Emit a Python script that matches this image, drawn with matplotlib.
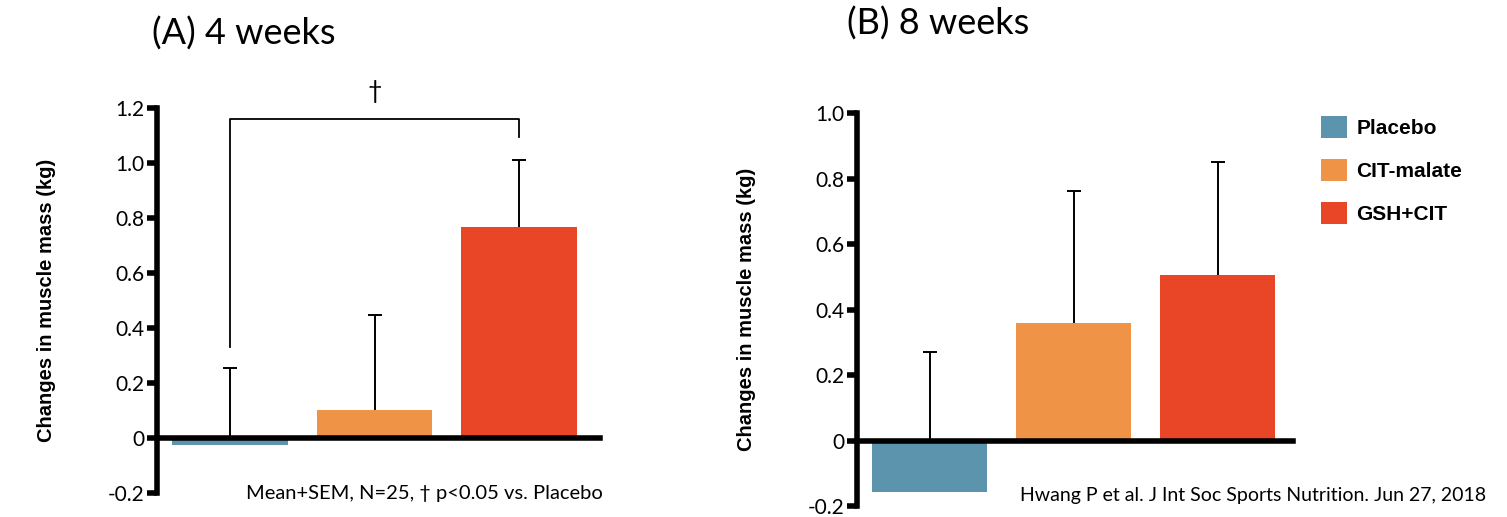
import numpy as np
import matplotlib.pyplot as plt
from matplotlib.patches import Patch

groups = ['Placebo', 'CIT-malate', 'GSH+CIT']
colors = ['#5d94ad', '#ef9447', '#e84626']

# 4 weeks
mean_4w = [-0.027, 0.103, 0.766]
sem_4w = [0.281, 0.346, 0.244]
# 8 weeks
mean_8w = [-0.156, 0.358, 0.506]
sem_8w = [0.426, 0.405, 0.346]

yticks_4w = [-0.2, 0, 0.2, 0.4, 0.6, 0.8, 1.0, 1.2]
yticks_8w = [-0.2, 0, 0.2, 0.4, 0.6, 0.8, 1.0]
ytick_labels_4w = ['-0.2', '0', '0.2', '0.4', '0.6', '0.8', '1.0', '1.2']
ytick_labels_8w = ['-0.2', '0', '0.2', '0.4', '0.6', '0.8', '1.0']

reg = dict(family='Lato')


def draw_panel(ax, means, sems, yticks, ylabels, ylim, xlim):
    x = np.arange(len(means))
    means = np.array(means)
    tops = means + np.array(sems)
    ax.bar(x, means, width=0.8, color=colors, zorder=2)
    # mean+SEM: only the upper whisker, drawn behind the bars
    ax.vlines(x, means, tops, color='black', lw=1.4, zorder=1)
    ax.plot(x, tops, ls='none', marker='_', ms=10, mew=1.4, color='black', zorder=1)
    ax.set_xlim(xlim)
    ax.set_ylim(ylim)
    ax.spines['top'].set_visible(False)
    ax.spines['right'].set_visible(False)
    ax.spines['bottom'].set_position(('data', 0))
    ax.spines['bottom'].set_linewidth(4)
    ax.spines['bottom'].set_zorder(3)
    ax.spines['left'].set_linewidth(4)
    ax.set_xticks([])
    ax.set_yticks(yticks)
    ax.set_yticklabels(ylabels, **reg)
    ax.tick_params(axis='y', length=7, width=4, labelsize=15, pad=2)
    ax.set_ylabel('Changes in muscle mass (kg)', fontsize=14.5, fontweight='bold',
                  family='Liberation Sans', labelpad=37)


fig = plt.figure(figsize=(15.07, 5.17), dpi=100)

ax1 = fig.add_axes([0.1042, 0.0464, 0.294, 0.7447])
draw_panel(ax1, mean_4w, sem_4w, yticks_4w, ytick_labels_4w, (-0.2, 1.2), (-0.505, 2.56))
ax1.plot([0, 0, 2, 2], [0.33, 1.16, 1.16, 1.093], color='black', lw=1.3, clip_on=False)
ax1.text(1, 1.26, '\u2020', ha='center', va='center', fontsize=18, **reg)
ax1.text(2.58, -0.2, 'Mean+SEM, N=25, \u2020 p<0.05 vs. Placebo', ha='right', va='center',
         fontsize=14.5, **reg)
fig.text(0.101, 0.935, '(A) 4 weeks', fontsize=26, va='center', ha='left', **reg)

ax2 = fig.add_axes([0.5687, 0.0213, 0.289, 0.7596])
draw_panel(ax2, mean_8w, sem_8w, yticks_8w, ytick_labels_8w, (-0.2, 1.0), (-0.505, 2.52))
fig.text(0.562, 0.955, '(B) 8 weeks', fontsize=26, va='center', ha='left', **reg)
fig.text(0.986, 0.042, 'Hwang P et al. J Int Soc Sports Nutrition. Jun 27, 2018',
         ha='right', va='center', fontsize=14, **reg)

handles = [Patch(facecolor=c, edgecolor='none') for c in colors]
fig.legend(handles, groups, loc='upper left', bbox_to_anchor=(0.8766, 0.7756),
           frameon=False, borderpad=0, borderaxespad=0,
           handlelength=1.25, handleheight=1.25, labelspacing=1.0,
           handletextpad=0.45, prop=dict(family='Liberation Sans', weight='bold', size=15))

plt.savefig('out.png', dpi=100)
